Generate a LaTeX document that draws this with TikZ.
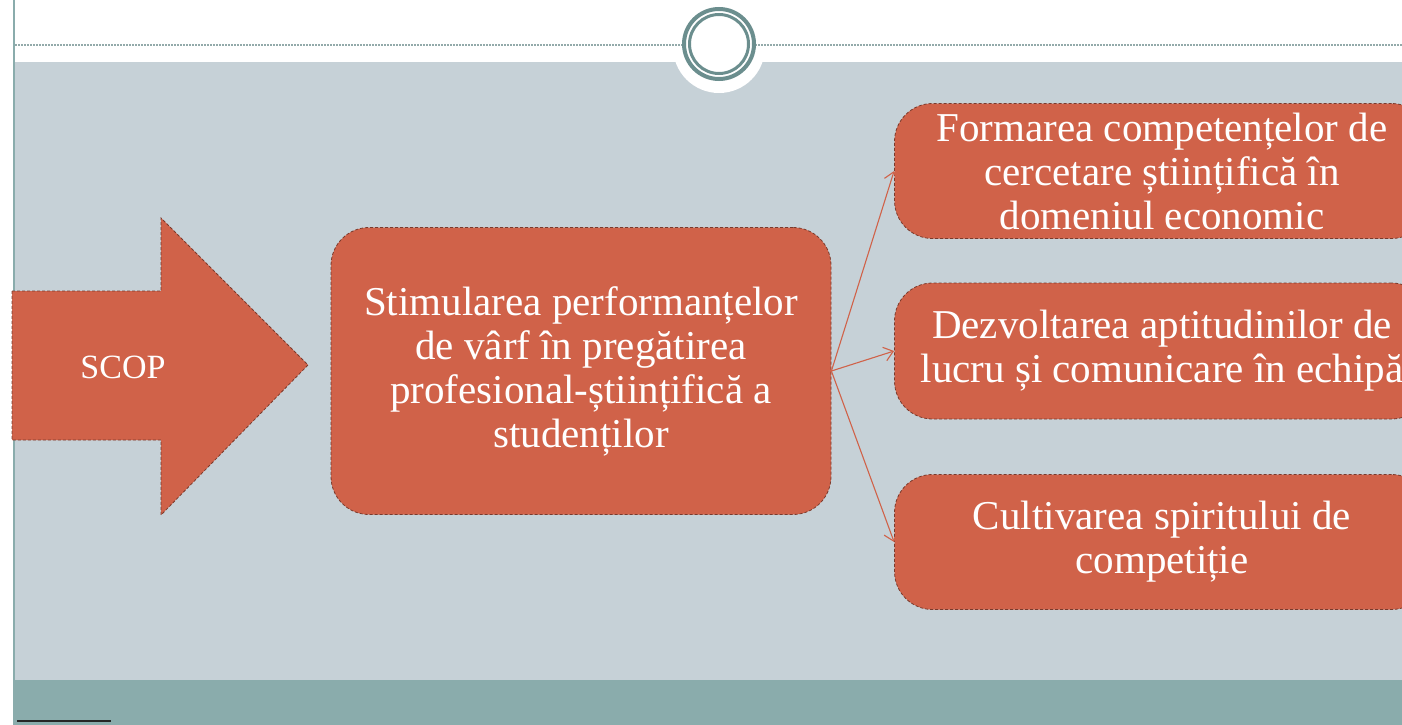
\documentclass[tikz,border=0pt]{standalone}
\usepackage{fontspec}
\setmainfont{Liberation Serif}
\usetikzlibrary{arrows.meta}
\definecolor{boxfill}{HTML}{D06249}
\definecolor{boxedge}{HTML}{7A3A2C}
\definecolor{panel}{HTML}{C6D1D7}
\definecolor{band}{HTML}{8AACAC}
\definecolor{ring}{HTML}{6B8E8E}
\definecolor{dotline}{HTML}{93AAAA}
\tikzset{
  boxstyle/.style={draw=boxedge, densely dashed, line width=0.8pt, fill=boxfill,
    rounded corners=38pt, text=white, align=center, inner sep=0pt,
    font=\fontsize{41}{44}\selectfont},
  conn/.style={draw=boxfill, line width=1.1pt, -{Straight Barb[length=9pt,width=14pt]}}
}
\begin{document}
\begin{tikzpicture}[x=1pt,y=-1pt]
\useasboundingbox (0,0) rectangle (1402,725);
\clip (0,0) rectangle (1402,725);
\fill[white] (0,0) rectangle (1402,725);
% panel
\fill[panel] (13,62) rectangle (1402,680);
\fill[band] (13,680) rectangle (1402,725);
\fill[white] (719,47) circle (46);
% dotted header line
\draw[dotline, line width=2pt, dash pattern=on 2pt off 1pt] (15,45) -- (683,45);
\draw[dotline, line width=2pt, dash pattern=on 2pt off 1pt] (755,45) -- (1402,45);
% rings
\draw[ring, line width=4pt] (719,44) circle (35);
\draw[ring, line width=3pt] (719,44) circle (29.5);
% left border
\draw[band, line width=2pt] (14,0) -- (14,725);
% bottom black line
\draw[black!85, line width=2pt] (17,721) -- (111,721);
% SCOP arrow
\draw[boxedge, densely dashed, line width=0.8pt, fill=boxfill]
  (12,291) -- (161,291) -- (161,218) -- (308,365) -- (161,515) -- (161,440) -- (12,440) -- cycle;
\node[text=white, font=\fontsize{34}{40}\selectfont] (scop) at (123,367) {SCOP};
% center box
\node[boxstyle, minimum width=500pt, minimum height=287pt, text depth=8pt] (main) at (581,371)
  {Stimularea performanțelor\\de vârf în pregătirea\\profesional-științifică a\\studenților};
% right boxes
\node[boxstyle, minimum width=535pt, minimum height=135pt] (r1) at (1162,171)
  {Formarea competențelor de\\cercetare științifică în\\domeniul economic};
\node[boxstyle, minimum width=535pt, minimum height=136pt] (r2) at (1162,351)
  {Dezvoltarea aptitudinilor de\\lucru și comunicare în echipă};
\node[boxstyle, minimum width=535pt, minimum height=135pt] (r3) at (1162,542)
  {Cultivarea spiritului de\\competiție};
% connectors
\draw[conn] (main.east) -- (r1.west);
\draw[conn] (main.east) -- (r2.west);
\draw[conn] (main.east) -- (r3.west);
\end{tikzpicture}
\end{document}
